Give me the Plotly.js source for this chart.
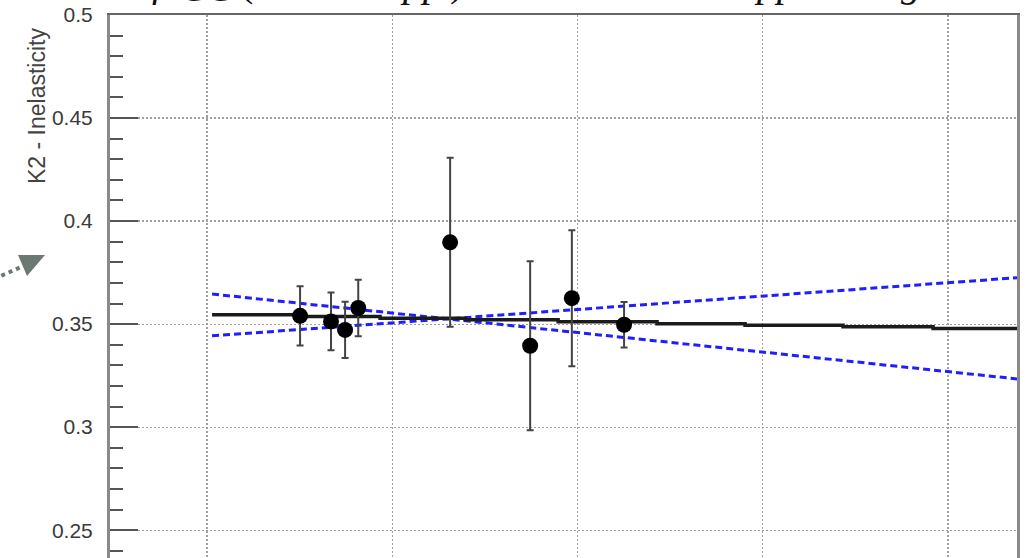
<!DOCTYPE html>
<html>
<head>
<meta charset="utf-8">
<script src="https://cdn.plot.ly/plotly-3.0.1.min.js"></script>
<style>
  html, body { margin: 0; padding: 0; background: #fff; overflow: hidden; }
  #frame { position: relative; width: 1033px; height: 558px; overflow: hidden; }
  #chart { position: absolute; left: 0; top: -30px; width: 1033px; height: 682px; }
</style>
</head>
<body>
<div id="frame"><div id="chart"></div></div>
<script>
// Measured K2 inelasticity points with their uncertainties
const energy      = [1.502, 1.669, 1.745, 1.816, 2.312, 2.744, 2.969, 3.251];
const inelastic   = [0.3540, 0.3513, 0.3472, 0.3578, 0.3897, 0.3395, 0.3626, 0.3497];
const inelasticErr = [0.0144, 0.0140, 0.0137, 0.0137, 0.0410, 0.0410, 0.0330, 0.0110];

// Fitted curve, evaluated bin by bin (bin edges + value in each bin)
const fitEdges  = [1.027, 1.502, 1.934, 2.393, 2.895, 3.429, 3.904, 4.433, 4.919, 5.372];
const fitValues = [0.3545, 0.3537, 0.3529, 0.3521, 0.3512, 0.3502, 0.3494, 0.3487, 0.3479];

// Error band of the fit: two limiting straight lines
const bandX     = [1.027, 5.372];
const bandLineA = [0.3646, 0.3234];
const bandLineB = [0.3443, 0.3725];

// Axis settings
const xRange     = [0.476, 5.372];
const xGridVals  = [1, 2, 3, 4, 5];
const yRange     = [0.22, 0.5];
const yTickVals  = [0.25, 0.3, 0.35, 0.4, 0.45, 0.5];
const yTickText  = ['0.25', '0.3', '0.35', '0.4', '0.45', '0.5'];
const yTitle     = 'K2 - Inelasticity';

// Pieces of the formula heading above the frame
const headParts = [
  {text: '<i>f</i>',  px: 150, drop: 0, size: 40},
  {text: '<i>CC</i>', px: 178, drop: 5, size: 40},
  {text: '(',         px: 238, drop: 0, size: 40},
  {text: '√',         px: 318, drop: 1, size: 42},
  {text: '<i>s</i>',  px: 372, drop: 0, size: 40},
  {text: '<i>pp</i>', px: 398, drop: 0, size: 40},
  {text: ')',         px: 448, drop: 0, size: 40},
  {text: '<i>ch</i>', px: 644, drop: 4, size: 40},
  {text: '<i>s</i>',  px: 728, drop: 0, size: 40},
  {text: '<i>pp</i>', px: 752, drop: 0, size: 40},
  {text: '<i>lg</i>', px: 888, drop: 0, size: 40}
];

// Plot-area geometry in page pixels (used to place decorations)
const L = 110, W = 907, TOPPX = 15, H = 577;
const toPaperX = px => (px - L) / W;
const toPaperY = py => 1 - (py - TOPPX) / H;

const traces = [
  {
    x: bandX, y: bandLineA, mode: 'lines', hoverinfo: 'skip',
    line: {color: 'rgb(30,30,255)', width: 3, dash: '7px,4px'}
  },
  {
    x: bandX, y: bandLineB, mode: 'lines', hoverinfo: 'skip',
    line: {color: 'rgb(30,30,255)', width: 3, dash: '7px,4px'}
  },
  {
    x: fitEdges, y: fitValues.concat([fitValues[fitValues.length - 1]]),
    mode: 'lines', line: {color: '#1b1b1b', width: 3.5, shape: 'hv'}
  },
  {
    x: energy, y: inelastic, mode: 'markers',
    marker: {color: '#000', size: 16, symbol: 'circle'},
    error_y: {type: 'data', array: inelasticErr, visible: true,
              color: '#444', thickness: 2, width: 3.5}
  }
];

const annotations = headParts.map(p => ({
  text: p.text, xref: 'paper', yref: 'paper',
  x: toPaperX(p.px), y: 1, xanchor: 'left', yanchor: 'bottom',
  yshift: 8 - p.drop, showarrow: false,
  font: {family: 'Liberation Serif, serif', size: p.size, color: '#111'}
}));

annotations.push({
  text: yTitle, xref: 'paper', yref: 'paper',
  x: toPaperX(37), y: toPaperY(106), xanchor: 'center', yanchor: 'middle',
  textangle: -90, showarrow: false,
  font: {family: 'Liberation Sans, Arial, sans-serif', size: 23, color: '#444'}
});

// Pointer arrow entering from the left margin
const arrowColor = '#6c7872';
const shapes = [
  {
    type: 'line', xref: 'paper', yref: 'paper',
    x0: toPaperX(-6), y0: toPaperY(279), x1: toPaperX(21), y1: toPaperY(267),
    line: {color: arrowColor, width: 4, dash: 'dot'}
  },
  {
    type: 'path', xref: 'paper', yref: 'paper',
    path: 'M ' + toPaperX(45) + ' ' + toPaperY(255) +
          ' L ' + toPaperX(18) + ' ' + toPaperY(255) +
          ' L ' + toPaperX(27) + ' ' + toPaperY(276) + ' Z',
    fillcolor: arrowColor, line: {width: 0}
  }
];

const layout = {
  width: 1033, height: 682,
  margin: {l: 110, r: 16, t: 45, b: 60},
  paper_bgcolor: '#fff', plot_bgcolor: '#fff',
  showlegend: false,
  xaxis: {
    range: xRange, tickvals: xGridVals, showticklabels: false,
    ticks: '', showgrid: true, gridcolor: '#a0a0a0', gridwidth: 1.2,
    griddash: '2px,2px', zeroline: false,
    showline: true, mirror: true, linecolor: '#666', linewidth: 2.5
  },
  yaxis: {
    range: yRange, tickvals: yTickVals, ticktext: yTickText,
    ticks: 'inside', ticklen: 28, tickwidth: 2, tickcolor: '#555',
    minor: {dtick: 0.01, ticks: 'inside', ticklen: 13, tickwidth: 2,
            tickcolor: '#555', showgrid: false},
    showgrid: true, gridcolor: '#a0a0a0', gridwidth: 1.2, griddash: '2px,2px',
    zeroline: false, showline: true, mirror: true,
    linecolor: '#8a8a8a', linewidth: 3,
    ticklabelstandoff: 10,
    tickfont: {family: 'Liberation Sans, Arial, sans-serif', size: 21, color: '#3a3a3a'}
  },
  annotations: annotations,
  shapes: shapes
};

Plotly.newPlot('chart', traces, layout, {staticPlot: true, displayModeBar: false});
</script>
</body>
</html>
